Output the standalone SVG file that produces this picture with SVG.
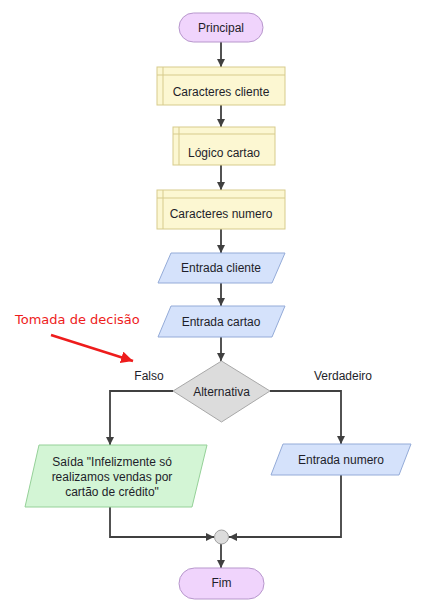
<svg xmlns="http://www.w3.org/2000/svg" width="425" height="614" viewBox="0 0 425 614">
<defs>
<marker id="ah" viewBox="0 0 8 8" refX="8" refY="4" markerWidth="8" markerHeight="8" markerUnits="userSpaceOnUse" orient="auto"><path d="M0,0 L8,4 L0,8 z" fill="#404040"/></marker>
<marker id="rah" viewBox="0 0 10 10" refX="10" refY="5" markerWidth="12" markerHeight="12" markerUnits="userSpaceOnUse" orient="auto"><path d="M0,0 L10,5 L0,10 z" fill="#ee1c1c"/></marker>
</defs>
<style>
.t{font-family:"Liberation Sans",Arial,sans-serif;font-size:12px;fill:#1e1e2a;text-anchor:middle;}
.term{fill:#f0d4fc;stroke:#b797cc;stroke-width:1;}
.proc{fill:#fcf7d2;stroke:#d7cb8c;stroke-width:1;}
.inner{fill:none;stroke:#d7cb8c;stroke-width:1;}
.io{fill:#d5e2fb;stroke:#94abd8;stroke-width:1;}
.out{fill:#d3f5d5;stroke:#95d198;stroke-width:1;}
.dec{fill:#dcdcdc;stroke:#a8a8a8;stroke-width:1;}
.c{fill:none;stroke:#404040;stroke-width:1.8;}
</style>
<rect width="425" height="614" fill="#ffffff"/>
<g id="connectors">
<line class="c" x1="221" y1="42" x2="221" y2="67" marker-end="url(#ah)"/>
<line class="c" x1="221" y1="105" x2="221" y2="127" marker-end="url(#ah)"/>
<line class="c" x1="221" y1="165" x2="221" y2="190" marker-end="url(#ah)"/>
<line class="c" x1="221" y1="229" x2="221" y2="253" marker-end="url(#ah)"/>
<line class="c" x1="221" y1="283" x2="221" y2="306" marker-end="url(#ah)"/>
<line class="c" x1="221" y1="337" x2="221" y2="361" marker-end="url(#ah)"/>
<polyline class="c" points="173,391 110,391 110,445" marker-end="url(#ah)"/>
<polyline class="c" points="270,391 341,391 341,444" marker-end="url(#ah)"/>
<polyline class="c" points="110,507 110,537 214,537" marker-end="url(#ah)"/>
<polyline class="c" points="341,475 341,537 229,537" marker-end="url(#ah)"/>
<line class="c" x1="221" y1="544" x2="221" y2="568" marker-end="url(#ah)"/>
</g>
<g id="principal">
<rect class="term" x="179" y="13" width="84" height="29" rx="14.5"/>
<text class="t" x="221" y="32">Principal</text>
</g>
<g id="caracteres-cliente">
<rect class="proc" x="157" y="67" width="128" height="38"/>
<line class="inner" x1="157" y1="75" x2="285" y2="75"/>
<line class="inner" x1="163" y1="67" x2="163" y2="105"/>
<text class="t" x="221" y="96">Caracteres cliente</text>
</g>
<g id="logico-cartao">
<rect class="proc" x="173" y="127" width="102" height="38"/>
<line class="inner" x1="173" y1="134" x2="275" y2="134"/>
<line class="inner" x1="179" y1="127" x2="179" y2="165"/>
<text class="t" x="224" y="157">Lógico cartao</text>
</g>
<g id="caracteres-numero">
<rect class="proc" x="157" y="190" width="128" height="39"/>
<line class="inner" x1="157" y1="198" x2="285" y2="198"/>
<line class="inner" x1="163" y1="190" x2="163" y2="229"/>
<text class="t" x="221" y="218">Caracteres numero</text>
</g>
<g id="entrada-cliente">
<polygon class="io" points="171,253 285,253 272,283 158,283"/>
<text class="t" x="221" y="272">Entrada cliente</text>
</g>
<g id="entrada-cartao">
<polygon class="io" points="171,306 285,306 272,337 158,337"/>
<text class="t" x="221" y="326">Entrada cartao</text>
</g>
<g id="alternativa">
<polygon class="dec" points="221.5,361 270,391 221.5,422 173,391"/>
<text class="t" x="221.5" y="396">Alternativa</text>
</g>
<g id="labels">
<text class="t" x="149" y="380">Falso</text>
<text class="t" x="343" y="380">Verdadeiro</text>
</g>
<g id="saida">
<polygon class="out" points="39,445 207,445 192,507 25,507"/>
<text class="t" x="112" y="466">Saída "Infelizmente só</text>
<text class="t" x="112" y="481">realizamos vendas por</text>
<text class="t" x="112" y="496">cartão de crédito"</text>
</g>
<g id="entrada-numero">
<polygon class="io" points="283,444 411,444 399,475 271,475"/>
<text class="t" x="341" y="464">Entrada numero</text>
</g>
<g id="juncao">
<circle cx="221.5" cy="537" r="7" fill="#dcdcdc" stroke="#a0a0a0" stroke-width="1"/>
</g>
<g id="fim">
<rect class="term" x="179" y="568" width="85" height="31" rx="15.5"/>
<text class="t" x="221.5" y="587">Fim</text>
</g>
<g id="annotation">
<text x="15" y="324" font-family="DejaVu Sans, sans-serif" font-size="13" fill="#ee1c1c">Tomada de decisão</text>
<line x1="51" y1="335" x2="133" y2="361" stroke="#ee1c1c" stroke-width="2.5" marker-end="url(#rah)"/>
</g>
</svg>
